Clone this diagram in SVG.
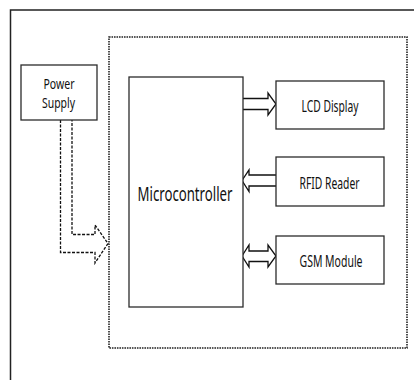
<svg xmlns="http://www.w3.org/2000/svg" width="414" height="380" viewBox="0 0 414 380">
  <style>
    .box { fill: #ffffff; stroke: #2b2b2b; stroke-width: 1.3; }
    .label { font-family: "Noto Sans", "Liberation Sans", sans-serif; fill: #111111; text-anchor: middle; }
    .bus { fill: #ffffff; stroke: #111111; stroke-width: 1.3; stroke-linejoin: miter; }
    .power { fill: none; stroke: #111111; stroke-width: 1.3; stroke-dasharray: 3 1.5; }
  </style>
  <rect width="414" height="380" fill="#ffffff"/>

  <!-- outer frame (top and left edges) -->
  <path d="M10.5,380 V10 H414" fill="none" stroke="#222222" stroke-width="1.5"/>

  <!-- system boundary -->
  <rect id="system-boundary" x="109" y="37" width="298" height="311" fill="none" stroke="#222222" stroke-width="1.6" stroke-dasharray="1.6 0.9"/>

  <g id="connectors">
    <!-- power feed into the system -->
    <path class="power" d="M60.5,120 V252.5 H95 V263 L108,243.5 L95,225 V234.5 H72 V120"/>
    <!-- microcontroller to LCD -->
    <path class="bus" d="M243,98.5 H268 V93 L276,104 L268,115 V109.5 H243"/>
    <!-- RFID to microcontroller -->
    <path class="bus" d="M276,175 H249 V170 L242,180.5 L249,191.5 V186 H276"/>
    <!-- microcontroller to/from GSM -->
    <path class="bus" d="M249,251 H268 V245 L276,256 L268,267 V261.5 H249 V267 L242,256 L249,245 Z"/>
  </g>

  <g id="power-supply">
    <rect class="box" x="21" y="65" width="76" height="55"/>
    <text class="label" x="59" y="89" font-size="14" textLength="31" lengthAdjust="spacingAndGlyphs">Power</text>
    <text class="label" x="58.5" y="108" font-size="14" textLength="33" lengthAdjust="spacingAndGlyphs">Supply</text>
  </g>

  <g id="microcontroller">
    <rect class="box" x="129" y="77" width="114" height="230"/>
    <text class="label" x="185" y="201" font-size="19" textLength="95" lengthAdjust="spacingAndGlyphs">Microcontroller</text>
  </g>

  <g id="lcd-display">
    <rect class="box" x="276" y="81" width="108" height="48"/>
    <text class="label" x="330" y="112" font-size="15.5" textLength="57" lengthAdjust="spacingAndGlyphs">LCD Display</text>
  </g>

  <g id="rfid-reader">
    <rect class="box" x="276" y="157" width="108" height="49"/>
    <text class="label" x="329.5" y="189" font-size="15.5" textLength="60" lengthAdjust="spacingAndGlyphs">RFID Reader</text>
  </g>

  <g id="gsm-module">
    <rect class="box" x="276" y="236" width="108" height="48"/>
    <text class="label" x="331" y="266.5" font-size="15.5" textLength="63" lengthAdjust="spacingAndGlyphs">GSM Module</text>
  </g>
</svg>
